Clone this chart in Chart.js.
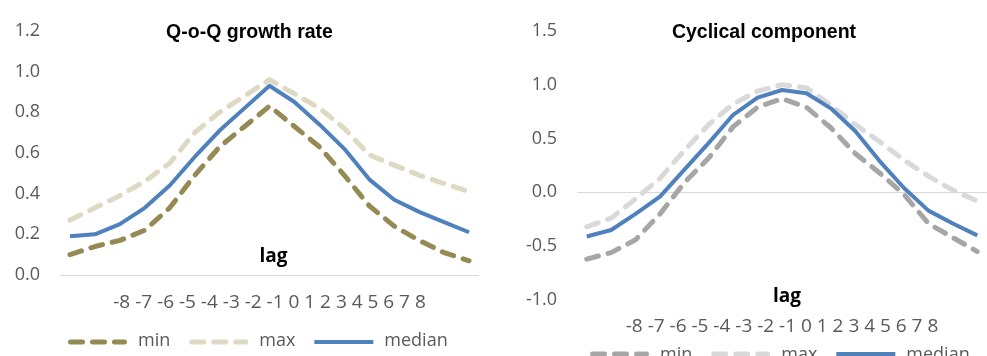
<!DOCTYPE html>
<html>
<head>
<meta charset="utf-8">
<script src="https://cdn.jsdelivr.net/npm/chart.js@4.4.1/dist/chart.umd.min.js"></script>
<style>
  html, body { margin: 0; padding: 0; background: #fff; }
  #wrap { position: relative; width: 987px; height: 356px; overflow: hidden; }
  canvas { position: absolute; top: 0; }
</style>
</head>
<body>
<div id="wrap">
  <canvas id="growth" width="490" height="356" style="left:0"></canvas>
  <canvas id="cycle" width="497" height="356" style="left:490px"></canvas>
</div>
<script>
// Lags (quarters) shared by both panels
const lags = [-8, -7, -6, -5, -4, -3, -2, -1, 0, 1, 2, 3, 4, 5, 6, 7, 8];

// Q-o-Q growth rate: correlation by lag
const growthMin    = [0.10, 0.14, 0.17, 0.22, 0.33, 0.49, 0.63, 0.73, 0.83, 0.73, 0.63, 0.49, 0.34, 0.24, 0.17, 0.11, 0.07];
const growthMax    = [0.27, 0.33, 0.39, 0.46, 0.55, 0.70, 0.80, 0.88, 0.96, 0.89, 0.82, 0.72, 0.59, 0.54, 0.49, 0.45, 0.41];
const growthMedian = [0.19, 0.20, 0.25, 0.33, 0.44, 0.58, 0.71, 0.82, 0.93, 0.85, 0.74, 0.62, 0.47, 0.37, 0.31, 0.26, 0.21];

// Cyclical component: correlation by lag
const cycleMin    = [-0.62, -0.56, -0.44, -0.20, 0.09, 0.32, 0.61, 0.79, 0.87, 0.79, 0.60, 0.36, 0.18, -0.02, -0.29, -0.42, -0.55];
const cycleMax    = [-0.32, -0.24, -0.06, 0.13, 0.39, 0.63, 0.82, 0.94, 1.00, 0.97, 0.81, 0.63, 0.47, 0.30, 0.15, 0.02, -0.08];
const cycleMedian = [-0.41, -0.35, -0.20, -0.04, 0.21, 0.46, 0.72, 0.88, 0.95, 0.92, 0.78, 0.57, 0.29, 0.04, -0.17, -0.29, -0.40];

const seriesNames = ['min', 'max', 'median'];

const TICK_FONT = '"Open Sans", "Liberation Sans", sans-serif';
const TICK_COLOR = '#595959';

const toPoints = vals => vals.map((v, i) => ({ x: lags[i], y: v }));

// Title, axis title, lag label row and legend drawn on top of each panel
const panelDecor = {
  id: 'panelDecor',
  afterDraw(chart, args, o) {
    const { ctx, chartArea: a } = chart;
    const cx = (a.left + a.right) / 2;
    ctx.save();
    ctx.textAlign = 'center';
    ctx.textBaseline = 'middle';

    ctx.fillStyle = '#000';
    ctx.font = 'bold 19.5px "Liberation Sans", Arial, sans-serif';
    ctx.fillText(o.title, cx + o.titleDx, o.titleY);

    ctx.font = 'bold 19px ' + TICK_FONT;
    ctx.fillText('lag', cx + o.lagDx, o.lagY);

    ctx.fillStyle = TICK_COLOR;
    ctx.font = '19px ' + TICK_FONT;
    ctx.fillText(chart.data.labels.join(' '), cx, o.rowY);

    // legend
    ctx.font = '18px ' + TICK_FONT;
    let x = o.legendX;
    const sample = 59;
    ctx.textAlign = 'left';
    chart.data.datasets.forEach(ds => {
      ctx.beginPath();
      ctx.setLineDash(ds.borderDash || []);
      ctx.lineCap = ds.borderCapStyle || 'butt';
      ctx.lineWidth = ds.borderWidth;
      ctx.strokeStyle = ds.borderColor;
      const cap = ctx.lineCap === 'round' ? ds.borderWidth / 2 : 0;
      ctx.moveTo(x + cap, o.legendY);
      ctx.lineTo(x + sample - cap, o.legendY);
      ctx.stroke();
      ctx.setLineDash([]);
      const tx = x + sample + 11;
      ctx.fillStyle = TICK_COLOR;
      ctx.fillText(ds.label, tx, o.legendY + o.legendTextDy);
      x = tx + ctx.measureText(ds.label).width + 19;
    });
    ctx.restore();
  }
};

function makeDatasets(minVals, maxVals, medVals, minColor, maxColor) {
  return [
    { label: seriesNames[0], data: toPoints(minVals), borderColor: minColor, borderWidth: 5,
      borderDash: [12, 10], borderCapStyle: 'round', order: 2 },
    { label: seriesNames[1], data: toPoints(maxVals), borderColor: maxColor, borderWidth: 5,
      borderDash: [12, 10], borderCapStyle: 'round', order: 1 },
    { label: seriesNames[2], data: toPoints(medVals), borderColor: '#4f81bd', borderWidth: 4,
      borderCapStyle: 'butt', order: 0 }
  ];
}

function makeChart(id, datasets, yMin, yMax, yStep, axisWidth, padding, decor) {
  return new Chart(document.getElementById(id), {
    type: 'line',
    data: { labels: lags, datasets },
    options: {
      responsive: false,
      animation: false,
      devicePixelRatio: 1,
      layout: { padding },
      elements: {
        point: { radius: 0, hoverRadius: 0 },
        line: { tension: 0, fill: false, borderJoinStyle: 'round' }
      },
      plugins: {
        legend: { display: false },
        tooltip: { enabled: false },
        panelDecor: decor
      },
      scales: {
        x: {
          type: 'linear', min: -8.4, max: 8.4, display: false
        },
        y: {
          min: yMin, max: yMax,
          afterFit: s => { s.width = axisWidth; },
          border: { display: false },
          grid: {
            drawTicks: false,
            lineWidth: 1,
            color: c => (c.tick && Math.abs(c.tick.value) < 1e-9) ? '#d9d9d9' : 'rgba(0,0,0,0)'
          },
          ticks: {
            stepSize: yStep,
            padding: 20,
            color: TICK_COLOR,
            font: { family: TICK_FONT, size: 18 },
            callback: v => Number(v).toFixed(1)
          }
        }
      }
    },
    plugins: [panelDecor]
  });
}

makeChart('growth',
  makeDatasets(growthMin, growthMax, growthMedian, '#948a54', '#ddd9c3'),
  0, 1.2, 0.2, 60,
  { left: 0, right: 11, top: 23, bottom: 81 },
  { title: 'Q-o-Q growth rate', titleDx: -20, titleY: 33,
    lagDx: 4, lagY: 257, rowY: 303, legendX: 68, legendY: 342, legendTextDy: -1 });

makeChart('cycle',
  makeDatasets(cycleMin, cycleMax, cycleMedian, '#a6a6a6', '#d9d9d9'),
  -1.0, 1.5, 0.5, 87,
  { left: 0, right: 0, top: 23, bottom: 56 },
  { title: 'Cyclical component', titleDx: -18, titleY: 33,
    lagDx: 5, lagY: 297, rowY: 327, legendX: 100, legendY: 354, legendTextDy: 1 });
</script>
</body>
</html>
